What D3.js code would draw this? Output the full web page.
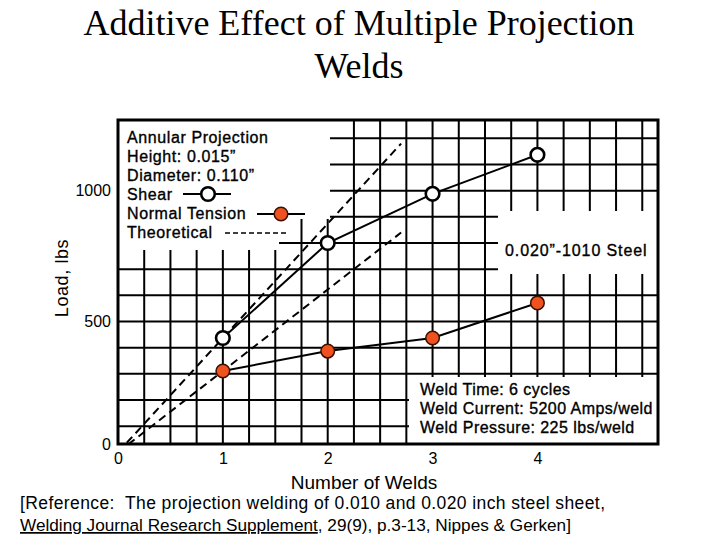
<!DOCTYPE html>
<html><head><meta charset="utf-8">
<script src="https://cdn.jsdelivr.net/npm/d3@7"></script>
<style>body{margin:0;background:#fff} svg{display:block} text{font-family:"Liberation Sans",Arial,sans-serif;fill:#000}</style>
</head><body><svg id="chart" width="720" height="540"></svg>
<script>
// ---- data ----
const welds = [1, 2, 3, 4];
const shearLoad = [437, 800, 988, 1137];
const tensionLoad = [311, 387, 437, 571];
const theoreticalWelds = [0, 2.7];
const theoreticalShear = [0, 1180];
const theoreticalTension = [0, 840];
const xTicks = [0, 1, 2, 3, 4];
const yTicks = [0, 500, 1000];
const xDomain = [0, 5.15];
const yDomain = [32, 1270];
const xGridStep = 0.25;
const yGridStep = 100;
const titleLines = ["Additive Effect of Multiple Projection", "Welds"];
const legendLines = ["Annular Projection", "Height: 0.015\u201d", "Diameter: 0.110\u201d", "Shear", "Normal Tension", "Theoretical"];
const weldNotes = ["Weld Time: 6 cycles", "Weld Current: 5200 Amps/weld", "Weld Pressure: 225 lbs/weld"];
const steelLabel = "0.020\u201d-1010 Steel";
const xTitle = "Number of Welds";
const yTitle = "Load, lbs";

// ---- layout ----
const L = 118, R = 658, T = 120, B = 444;
const svg = d3.select("#chart");
const x = d3.scaleLinear().domain(xDomain).range([L, R]);
const y = d3.scaleLinear().domain(yDomain).range([B, T]);
const yAxisScale = y.copy().clamp(true);
const orange = "#f0521f";

svg.append("defs").append("clipPath").attr("id", "plot")
  .append("rect").attr("x", L).attr("y", T).attr("width", R - L).attr("height", B - T);

// title
svg.append("g").selectAll("text").data(titleLines).join("text")
  .attr("x", 359).attr("y", (d, i) => 35 + i * 43)
  .attr("text-anchor", "middle")
  .style("font-family", "'Liberation Serif','Times New Roman',serif")
  .style("font-size", "36px").text(d => d);

// grid
const grid = svg.append("g").attr("clip-path", "url(#plot)");
const xGrid = d3.range(xGridStep, xDomain[1] - 0.05, xGridStep);
const yGrid = d3.range(yGridStep, yDomain[1], yGridStep);
grid.selectAll(".gx").data(xGrid).join("line")
  .attr("x1", d => x(d)).attr("x2", d => x(d)).attr("y1", T).attr("y2", B)
  .attr("stroke", "#000").attr("stroke-width", 2);
grid.selectAll(".gy").data(yGrid).join("line")
  .attr("y1", d => y(d)).attr("y2", d => y(d)).attr("x1", L).attr("x2", R)
  .attr("stroke", "#000").attr("stroke-width", 2);

// white boxes over the graph paper
const boxes = svg.append("g").attr("fill", "#fff");
boxes.append("path").attr("d", "M119,121 H330 V219 H296 V238 H279 V250 H119 Z");
boxes.append("rect").attr("x", 498).attr("y", 211).attr("width", 160).attr("height", 63);
boxes.append("rect").attr("x", 409).attr("y", 377).attr("width", 249).attr("height", 67);

// frame
svg.append("rect").attr("x", L).attr("y", T).attr("width", R - L).attr("height", B - T)
  .attr("fill", "none").attr("stroke", "#000").attr("stroke-width", 3);

// theoretical dashed lines
const lineGen = d3.line().x(d => x(d[0])).y(d => y(d[1]));
const theo = svg.append("g").attr("clip-path", "url(#plot)");
[theoreticalShear, theoreticalTension].forEach(s => {
  theo.append("path").datum(theoreticalWelds.map((w, i) => [w, s[i]]))
    .attr("d", lineGen).attr("fill", "none").attr("stroke", "#000")
    .attr("stroke-width", 2).attr("stroke-dasharray", "8,5");
});

// series
const shearPts = welds.map((w, i) => [w, shearLoad[i]]);
const tensionPts = welds.map((w, i) => [w, tensionLoad[i]]);
[shearPts, tensionPts].forEach(p => {
  svg.append("path").datum(p).attr("d", lineGen).attr("fill", "none")
    .attr("stroke", "#000").attr("stroke-width", 2);
});
svg.append("g").selectAll("circle").data(shearPts).join("circle")
  .attr("cx", d => x(d[0])).attr("cy", d => y(d[1])).attr("r", 6.8)
  .attr("fill", "#fff").attr("stroke", "#000").attr("stroke-width", 2.6);
svg.append("g").selectAll("circle").data(tensionPts).join("circle")
  .attr("cx", d => x(d[0])).attr("cy", d => y(d[1])).attr("r", 6.8)
  .attr("fill", orange).attr("stroke", "#3a1000").attr("stroke-width", 1.5);

// axes
const ya = svg.append("g").attr("transform", `translate(${L},0)`)
  .call(d3.axisLeft(yAxisScale).tickValues(yTicks).tickFormat(d3.format("d")).tickSize(0).tickPadding(7));
ya.select(".domain").remove();
ya.selectAll("text").style("font-family", "'Liberation Sans',Arial,sans-serif").style("font-size", "16px");
const xa = svg.append("g").attr("transform", `translate(0,${B})`)
  .call(d3.axisBottom(x).tickValues(xTicks).tickFormat(d3.format("d")).tickSize(0).tickPadding(9));
xa.select(".domain").remove();
xa.selectAll("text").style("font-family", "'Liberation Sans',Arial,sans-serif").style("font-size", "16px");

// axis titles
svg.append("text").attr("x", 364).attr("y", 489).attr("text-anchor", "middle")
  .style("font-size", "19px").text(xTitle);
svg.append("text").attr("transform", "translate(68,278) rotate(-90)").attr("text-anchor", "middle")
  .style("font-size", "18px").style("letter-spacing", "0.6px").text(yTitle);

// legend
const heavy = sel => sel.style("stroke", "#000").style("stroke-width", "0.35px");
const lg = svg.append("g");
lg.selectAll("text").data(legendLines).join("text")
  .attr("x", 127).attr("y", (d, i) => 143 + i * 19)
  .style("font-size", "16px").style("letter-spacing", "0.6px").call(heavy).text(d => d);
lg.append("line").attr("x1", 183).attr("x2", 231).attr("y1", 194).attr("y2", 194).attr("stroke", "#000").attr("stroke-width", 2);
lg.append("circle").attr("cx", 208).attr("cy", 194).attr("r", 6.8).attr("fill", "#fff").attr("stroke", "#000").attr("stroke-width", 2.6);
lg.append("line").attr("x1", 257).attr("x2", 305).attr("y1", 214).attr("y2", 214).attr("stroke", "#000").attr("stroke-width", 2);
lg.append("circle").attr("cx", 281).attr("cy", 214).attr("r", 6.8).attr("fill", orange).attr("stroke", "#3a1000").attr("stroke-width", 1.5);
lg.append("line").attr("x1", 225).attr("x2", 288).attr("y1", 233).attr("y2", 233).attr("stroke", "#000").attr("stroke-width", 1.5).attr("stroke-dasharray", "5,3");

// steel label
svg.append("text").attr("x", 505).attr("y", 256).style("font-size", "16px").style("letter-spacing", "0.9px").call(heavy).text(steelLabel);

// weld notes
svg.append("g").selectAll("text").data(weldNotes).join("text")
  .attr("x", 420).attr("y", (d, i) => 395 + i * 19)
  .style("font-size", "16px").style("letter-spacing", "0.45px").call(heavy).text(d => d);

// reference
const ref = svg.append("g");
ref.append("text").attr("x", 20).attr("y", 509).style("white-space", "pre").style("font-size", "17.5px")
  .attr("textLength", 585).attr("lengthAdjust", "spacing")
  .text("[Reference:  The projection welding of 0.010 and 0.020 inch steel sheet,");
const t2 = ref.append("text").attr("x", 20).attr("y", 531).style("font-size", "17.2px");
t2.append("tspan").style("text-decoration", "underline").text("Welding Journal Research Supplement");
t2.append("tspan").text(", 29(9), p.3-13, Nippes & Gerken]");
</script></body></html>
